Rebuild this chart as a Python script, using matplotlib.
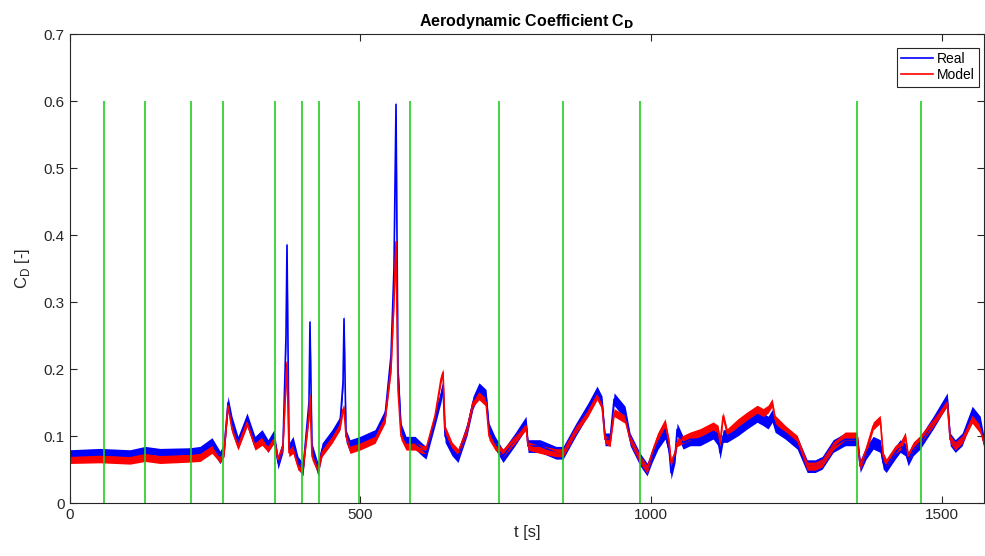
import numpy as np
import matplotlib.pyplot as plt

plt.rcParams['font.family'] = ['Liberation Sans', 'DejaVu Sans']

# time [s] of the read-off points, drag coefficient of the measured (Real) and modelled series
t = [0, 52.4, 104, 129.8, 155.5, 207.1, 224.3, 244.9, 258.7, 265.6,
     272.4, 279.3, 289.6, 305.1, 318.8, 330.9, 341.2, 351.5, 358.4, 366.9,
     372.1, 373.8, 377.3, 384.2, 392.7, 401.3, 411.6, 413.3, 416.8, 427.1,
     434, 451.2, 465, 470.1, 471.8, 475.3, 482.1, 499.3, 525.1, 542.3,
     552.6, 557.7, 561.2, 564.6, 569.8, 578.4, 593.9, 605.9, 612.8, 628.3,
     638.6, 642, 645.5, 657.5, 667.8, 683.3, 693.6, 703.9, 716, 721.1,
     731.4, 745.2, 765.8, 784.7, 788.2, 808.8, 836.3, 848.4, 870.7, 891.3,
     906.8, 915.4, 920.6, 929.2, 936.1, 955, 963.6, 980.8, 992.8, 1001.4,
     1011.7, 1023.8, 1030.6, 1034.1, 1041, 1044.4, 1054.7, 1066.8, 1084, 1106.3,
     1114.9, 1118.3, 1123.5, 1130.4, 1149.3, 1164.8, 1182, 1192.3, 1200.9, 1207.8,
     1212.9, 1230.1, 1250.8, 1268, 1281.7, 1293.8, 1312.7, 1333.3, 1354, 1359.2,
     1369.5, 1381.5, 1393.6, 1398.7, 1403.9, 1419.4, 1428, 1436.6, 1441.7, 1450.3,
     1462.3, 1484.7, 1508.8, 1513.9, 1522.5, 1534.5, 1551.7, 1565.5, 1572]
cd_real = [0.070, 0.072, 0.070, 0.075, 0.072, 0.073, 0.075, 0.088, 0.068, 0.080,
           0.150, 0.120, 0.090, 0.125, 0.090, 0.100, 0.085, 0.100, 0.060, 0.085,
           0.250, 0.385, 0.080, 0.090, 0.060, 0.050, 0.150, 0.270, 0.080, 0.050,
           0.080, 0.100, 0.120, 0.180, 0.275, 0.100, 0.085, 0.090, 0.100, 0.130,
           0.220, 0.350, 0.595, 0.200, 0.110, 0.090, 0.090, 0.080, 0.075, 0.125,
           0.160, 0.175, 0.100, 0.080, 0.070, 0.110, 0.150, 0.170, 0.160, 0.110,
           0.090, 0.070, 0.095, 0.120, 0.085, 0.085, 0.075, 0.075, 0.110, 0.140,
           0.165, 0.150, 0.095, 0.095, 0.155, 0.135, 0.095, 0.065, 0.050, 0.070,
           0.090, 0.105, 0.080, 0.045, 0.070, 0.110, 0.090, 0.095, 0.095, 0.105,
           0.095, 0.075, 0.100, 0.100, 0.110, 0.120, 0.130, 0.125, 0.120, 0.130,
           0.115, 0.105, 0.090, 0.055, 0.055, 0.060, 0.085, 0.095, 0.095, 0.055,
           0.075, 0.090, 0.085, 0.060, 0.055, 0.075, 0.085, 0.080, 0.065, 0.080,
           0.090, 0.120, 0.155, 0.095, 0.085, 0.095, 0.135, 0.120, 0.090]
cd_model = [0.065, 0.066, 0.064, 0.068, 0.065, 0.067, 0.068, 0.080, 0.066, 0.075,
            0.145, 0.110, 0.085, 0.120, 0.085, 0.092, 0.082, 0.095, 0.065, 0.085,
            0.180, 0.210, 0.075, 0.080, 0.055, 0.050, 0.130, 0.160, 0.070, 0.050,
            0.075, 0.095, 0.115, 0.140, 0.140, 0.100, 0.080, 0.085, 0.095, 0.125,
            0.200, 0.300, 0.390, 0.170, 0.100, 0.085, 0.085, 0.080, 0.080, 0.130,
            0.185, 0.195, 0.110, 0.085, 0.075, 0.110, 0.150, 0.160, 0.150, 0.100,
            0.085, 0.075, 0.095, 0.115, 0.085, 0.080, 0.075, 0.075, 0.110, 0.135,
            0.160, 0.145, 0.095, 0.090, 0.135, 0.125, 0.095, 0.065, 0.050, 0.075,
            0.100, 0.120, 0.090, 0.060, 0.075, 0.090, 0.095, 0.100, 0.105, 0.115,
            0.110, 0.090, 0.130, 0.105, 0.120, 0.130, 0.140, 0.135, 0.140, 0.150,
            0.125, 0.110, 0.095, 0.055, 0.055, 0.060, 0.085, 0.100, 0.100, 0.055,
            0.080, 0.115, 0.125, 0.070, 0.060, 0.080, 0.085, 0.100, 0.070, 0.085,
            0.095, 0.120, 0.150, 0.095, 0.085, 0.095, 0.125, 0.110, 0.090]

# manoeuvre change times [s] (green markers)
t_events = [59.8, 130.3, 208.8, 263.8, 353.7, 398.8, 428.8, 498.1, 585.2, 738.7,
            848.7, 981.1, 1354.1, 1463.0]

t = np.array(t)
cd_real = np.array(cd_real)
cd_model = np.array(cd_model)

fig = plt.figure(figsize=(9.85, 5.56), dpi=100)
ax = fig.add_axes([0.0706, 0.0953, 0.9284, 0.8435])

# measured/modelled signals are noisy: show them as bands around the read values
ax.fill_between(t, cd_real - 0.0095, cd_real + 0.0095, color='#0000ff', lw=0)
ax.plot(t, cd_real, color='#0000ff', lw=1.2, label='Real')
ax.fill_between(t, cd_model - 0.006, cd_model + 0.006, color='#ff0000', lw=0)
ax.plot(t, cd_model, color='#ff0000', lw=1.2, label='Model')

ax.vlines(t_events, 0, 0.6, colors='#22cc22', lw=1.2)

ax.set_xlim(0, 1572)
ax.set_ylim(0, 0.7)
ax.set_xticks([0, 500, 1000, 1500])
ax.set_yticks(np.arange(0, 0.71, 0.1))
ax.set_yticklabels(['0', '0.1', '0.2', '0.3', '0.4', '0.5', '0.6', '0.7'])
ax.tick_params(direction='in', top=True, right=True, length=5, labelsize=11,
               colors='#262626', width=0.8)
for s in ax.spines.values():
    s.set_color('#262626')
    s.set_linewidth(0.8)

ax.set_xlabel('t [s]', fontsize=12, color='#262626', labelpad=2)
ax.set_ylabel(r'C$_\mathregular{D}$ [-]', fontsize=12, color='#262626', labelpad=8)
ax.set_title(r'Aerodynamic Coefficient C$_\mathbf{D}$', fontsize=11.5, fontweight='bold',
             pad=6)

leg = ax.legend(loc='upper right', bbox_to_anchor=(0.9945, 0.970), fancybox=False,
                framealpha=1, edgecolor='#262626', fontsize=10, handlelength=2.3,
                borderaxespad=0, borderpad=0.3, labelspacing=0.15, handletextpad=0.3)
leg.get_frame().set_linewidth(0.8)
for h in leg.get_lines():
    h.set_linewidth(1.2)

fig.savefig('out.png', dpi=100)
